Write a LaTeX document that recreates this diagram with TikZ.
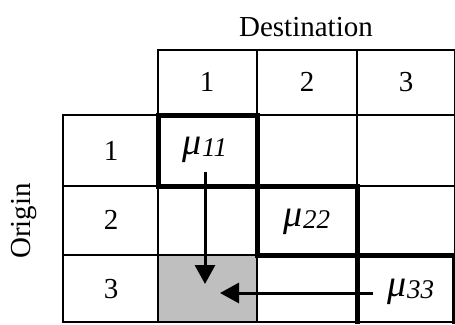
\documentclass[tikz,border=0pt]{standalone}
\usepackage{fontspec}
\setmainfont{Liberation Serif}
\usetikzlibrary{arrows.meta}
\newcommand{\mysub}[1]{\raisebox{-0.1ex}{\fontsize{27}{29}\selectfont\itshape #1}}
\begin{document}
\begin{tikzpicture}[x=1pt,y=-1pt,
  thin grid/.style={line width=1.4pt},
  thick grid/.style={line width=5pt},
  lbl/.style={font=\fontsize{29}{32}\selectfont, inner sep=0pt},
  mulbl/.style={font=\fontsize{38}{40}\selectfont\itshape, inner sep=0pt},
  arr/.style={line width=3pt, -{Triangle[length=19pt,width=20pt]}}]
\useasboundingbox (0,0) rectangle (455,324);
\fill[gray!50] (158,255) rectangle (257,322);
% thin grid
\draw[thin grid] (158,50) rectangle (455,115);
\draw[thin grid] (257,50) -- (257,115) (357,50) -- (357,115);
\draw[thin grid] (63,115) rectangle (455,322);
\draw[thin grid] (63,186) -- (455,186) (63,255) -- (455,255);
\draw[thin grid] (158,115) -- (158,322) (257,115) -- (257,322) (357,115) -- (357,322);
% thick outline
\draw[thick grid] (158,115) rectangle (257,186);
\draw[thick grid] (257,186) -- (357,186) -- (357,324);
\draw[thick grid] (257,186) -- (257,255) -- (455,255);
\draw[thick grid] (454,255) -- (454,324);
% labels
\node[lbl] (dest) at (306,27) {Destination};
\node[lbl, rotate=90] (orig) at (24,221) {Origin};
\node[lbl] (c1) at (207,82) {1};
\node[lbl] (c2) at (307,82) {2};
\node[lbl] (c3) at (406,82) {3};
\node[lbl] (r1) at (111,151) {1};
\node[lbl] (r2) at (111,220) {2};
\node[lbl] (r3) at (111,289) {3};
\node[mulbl] (m11) at (205,150) {μ\mysub{11}};
\node[mulbl] (m22) at (307,222) {μ\mysub{22}};
\node[mulbl] (m33) at (411,292) {μ\mysub{33}};
\coordinate (downtip) at (205,284);
\coordinate (lefttip) at (220,293);
\coordinate (m11s) at (205,172);
\coordinate (m33w) at (373,293);
\draw[arr] (m11s) -- (downtip);
\draw[arr] (m33w) -- (lefttip);
\end{tikzpicture}
\end{document}
